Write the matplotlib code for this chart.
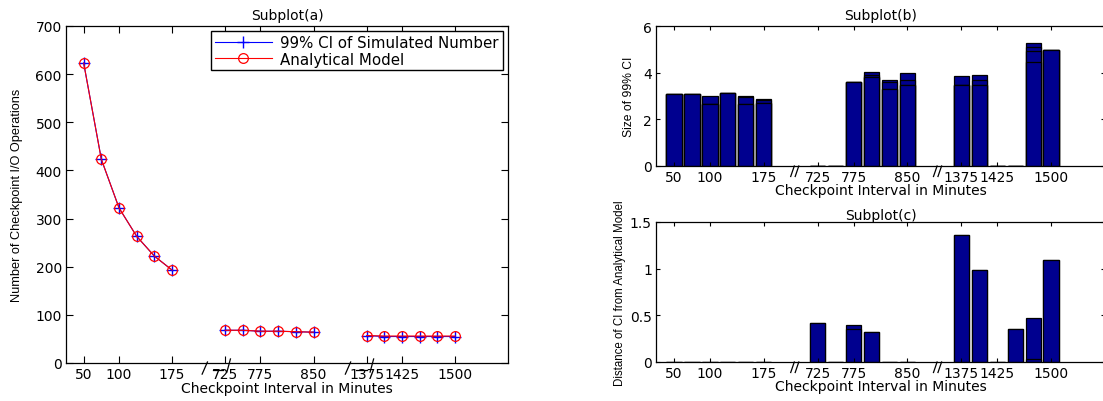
import matplotlib
matplotlib.use("Agg")
import matplotlib.pyplot as plt
import matplotlib.transforms as mtransforms

# ---------------- data ----------------
intervals = [50, 75, 100, 125, 150, 175,
             725, 750, 775, 800, 825, 850,
             1375, 1400, 1425, 1450, 1475, 1500]
# axis slot of each interval (the axis is broken into three groups)
slots = [1, 2, 3, 4, 5, 6,
         9, 10, 11, 12, 13, 14,
         17, 18, 19, 20, 21, 22]
tick_slots = [1, 3, 6, 9, 11, 14, 17, 19, 22]
tick_labels = ["50", "100", "175", "725", "775", "850", "1375", "1425", "1500"]

simulated_ci = [623, 423, 322, 263, 222, 193,
                68, 68, 66, 66, 65, 64,
                57, 55, 55, 55, 55, 55]
analytical = [623, 423, 322, 263, 222, 193,
              68, 68, 66, 66, 65, 64,
              57, 56, 56, 56, 56, 56]

# Subplot (b): overlapping bars (size of 99% CI), tallest first
ci_size_1 = [3.09, 3.07, 3.00, 3.13, 3.00, 2.89,
             0, 0, 3.60, 4.01, 3.70, 3.97,
             3.87, 3.91, 0, 0, 5.27, 4.96]
ci_size_2 = [3.09, 3.07, 2.64, 3.13, 2.94, 2.81,
             0, 0, 3.60, 3.90, 3.61, 3.70,
             3.47, 3.70, 0, 0, 5.11, 4.96]
ci_size_3 = [3.09, 3.07, 2.64, 3.13, 2.64, 2.69,
             0, 0, 3.60, 3.80, 3.29, 3.47,
             3.47, 3.49, 0, 0, 4.91, 4.96]
ci_size_4 = [3.09, 3.07, 2.64, 3.13, 2.64, 2.69,
             0, 0, 3.60, 3.80, 3.29, 3.47,
             3.47, 3.49, 0, 0, 4.44, 4.96]

# Subplot (c): distance of CI from analytical model
ci_dist_1 = [0, 0, 0, 0, 0, 0,
             0.42, 0, 0.40, 0.32, 0, 0,
             1.36, 0.99, 0, 0.35, 0.47, 1.09]
ci_dist_2 = [0, 0, 0, 0, 0, 0,
             0.42, 0, 0.35, 0.32, 0, 0,
             1.36, 0.99, 0, 0.35, 0.03, 1.09]

# ---------------- style ----------------
W, H = 1103, 402
fig = plt.figure(figsize=(W / 100, H / 100), dpi=100)
FS = 10
bar_color = "#00008F"
NARROW = ["Liberation Sans Narrow", "Liberation Sans"]


def px_axes(left, top, right, bottom):
    return fig.add_axes([left / W, 1 - bottom / H, (right - left) / W, (bottom - top) / H])


def style_axis(ax, ticklen):
    ax.set_xlim(0, 25)
    ax.set_xticks(tick_slots)
    ax.set_xticklabels(tick_labels)
    ax.tick_params(direction="in", length=ticklen, width=0.8, top=True, right=True,
                   labelsize=FS, pad=3)
    for s in ax.spines.values():
        s.set_linewidth(0.9)


def break_lines(ax, pairs, y0, y1):
    tr = mtransforms.blended_transform_factory(ax.transData, ax.transAxes)
    for (xa, xb) in pairs:
        ax.plot([xa, xb], [y0, y1], color="black", lw=0.9, transform=tr, clip_on=False)


# ---------------- Subplot (a) ----------------
ax1 = px_axes(66, 27, 508, 364)
ax1.plot(slots[0:6], simulated_ci[0:6], color="blue", lw=0.8, marker="+", ms=8, mew=1.0)
ax1.plot(slots[6:12], simulated_ci[6:12], color="blue", lw=0.8, marker="+", ms=8, mew=1.0)
ax1.plot(slots[12:], simulated_ci[12:], color="blue", lw=0.8, marker="+", ms=8, mew=1.0,
         label="99% CI of Simulated Number")
ax1.plot(slots[0:6], analytical[0:6], color="red", lw=0.8, marker="o", ms=7, mfc="none", mew=0.9)
ax1.plot(slots[6:12], analytical[6:12], color="red", lw=0.8, marker="o", ms=7, mfc="none", mew=0.9)
ax1.plot(slots[12:], analytical[12:], color="red", lw=0.8, marker="o", ms=7, mfc="none", mew=0.9,
         label="Analytical Model")
style_axis(ax1, 5)
ax1.set_ylim(0, 700)
ax1.set_yticks(range(0, 701, 100))
ax1.set_title("Subplot(a)", fontsize=FS, pad=5)
ax1.set_xlabel("Checkpoint Interval in Minutes", fontsize=FS, labelpad=0)
ax1.set_ylabel("Number of Checkpoint I/O Operations", fontsize=9.2, family=NARROW, labelpad=9)
leg = ax1.legend(loc="upper right", fontsize=10.8, handlelength=3.8, borderaxespad=0.35,
                 fancybox=False, edgecolor="black", framealpha=1, borderpad=0.25,
                 labelspacing=0.1, handletextpad=0.6)
leg.get_frame().set_linewidth(1.0)
# axis break marks
tr1 = mtransforms.blended_transform_factory(ax1.transData, ax1.transAxes)
for xs, ys in [([7.7, 8.0], [-0.033, 0.003]), ([8.3, 8.9], [-0.021, -0.021]),
               ([9.1, 9.3], [-0.027, 0.012]),
               ([15.8, 16.1], [-0.033, 0.003]), ([16.4, 17.0], [-0.021, -0.021]),
               ([17.2, 17.4], [-0.027, 0.012])]:
    ax1.plot(xs, ys, color="black", lw=0.9, transform=tr1, clip_on=False)

# ---------------- Subplot (b) ----------------
ax2 = px_axes(656, 27, 1105, 167)
for vals in (ci_size_1, ci_size_2, ci_size_3, ci_size_4):
    ax2.bar(slots, vals, width=0.85, color=bar_color, edgecolor="black", linewidth=0.9)
style_axis(ax2, 3)
ax2.set_ylim(0, 6)
ax2.set_yticks([0, 2, 4, 6])
ax2.set_title("Subplot(b)", fontsize=FS, pad=5)
ax2.set_xlabel("Checkpoint Interval in Minutes", fontsize=FS, labelpad=-1)
ax2.set_ylabel("Size of 99% CI", fontsize=8.7, family=NARROW, labelpad=6)
break_lines(ax2, [(7.5, 7.7), (7.75, 7.95), (15.45, 15.65), (15.7, 15.9)], -0.075, 0.0)

# ---------------- Subplot (c) ----------------
ax3 = px_axes(656, 223, 1105, 363)
for vals in (ci_dist_1, ci_dist_2):
    ax3.bar(slots, vals, width=0.85, color=bar_color, edgecolor="black", linewidth=0.9)
style_axis(ax3, 3)
ax3.set_ylim(0, 1.5)
ax3.set_yticks([0, 0.5, 1, 1.5])
ax3.set_yticklabels(["0", "0.5", "1", "1.5"])
ax3.set_title("Subplot(c)", fontsize=FS, pad=2)
ax3.set_xlabel("Checkpoint Interval in Minutes", fontsize=FS, labelpad=-1)
ax3.set_ylabel("Distance of CI from Analytical Model", fontsize=8.3, family=NARROW, labelpad=3)
break_lines(ax3, [(7.5, 7.7), (7.75, 7.95), (15.45, 15.65), (15.7, 15.9)], -0.075, 0.0)

fig.savefig("out.png", dpi=100)
